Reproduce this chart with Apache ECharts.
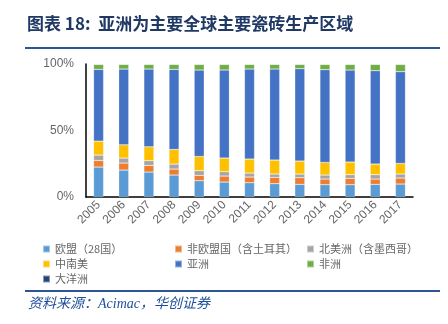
<!DOCTYPE html>
<html>
<head>
<meta charset="utf-8">
<script src="https://cdn.jsdelivr.net/npm/echarts@6/dist/echarts.min.js"></script>
<style>
  html, body { margin: 0; padding: 0; background: #fff; }
  #chart { width: 448px; height: 324px; }
</style>
</head>
<body>
<div id="chart"></div>
<script>
// Share of world ceramic tile production by region (%), 2005-2017
const years = ['2005','2006','2007','2008','2009','2010','2011','2012','2013','2014','2015','2016','2017'];
const eu28      = [22.5, 20.25, 18.75, 16.5, 12.25, 11.25, 10.75, 10, 9.5, 9.25, 9.25, 9.5, 9.75];
const nonEu     = [5, 5.25, 5, 4.5, 4, 4.5, 4.25, 4.75, 5, 4.25, 4.75, 4, 4.5];
const northAm   = [4, 3.75, 3.5, 3.75, 3.5, 3.25, 3, 2.5, 2.75, 3, 2.75, 3.25, 3];
const latinAm   = [10.5, 10, 10.5, 11, 10.75, 10.25, 10.5, 10.5, 9.75, 9.5, 9.5, 8, 8];
const asia      = [53.95, 56.95, 58.45, 60.2, 64.95, 66.2, 67.7, 68.45, 69.45, 69.7, 69.2, 70.2, 68.95];
const africa    = [3.75, 3.5, 3.5, 3.75, 4.25, 4.25, 3.5, 3.5, 3.25, 4, 4.25, 4.75, 5.5];
const oceania   = [0.3, 0.3, 0.3, 0.3, 0.3, 0.3, 0.3, 0.3, 0.3, 0.3, 0.3, 0.3, 0.3];
const yTicks    = ['0%', '50%', '100%'];

const seriesDefs = [
  { name: '欧盟（28国）', data: eu28, color: '#5B9BD5' },
  { name: '非欧盟国（含土耳其）', data: nonEu, color: '#ED7D31' },
  { name: '北美洲（含墨西哥）', data: northAm, color: '#A5A5A5' },
  { name: '中南美', data: latinAm, color: '#FFC000' },
  { name: '亚洲', data: asia, color: '#4472C4' },
  { name: '非洲', data: africa, color: '#70AD47' },
  { name: '大洋洲', data: oceania, color: '#264478' }
];

const chart = echarts.init(document.getElementById('chart'), null, { renderer: 'canvas' });

const legendText = { color: '#666666', fontSize: 11, fontFamily: 'Noto Sans CJK SC', lineHeight: 14 };
function legendCol(left, names) {
  return {
    orient: 'vertical', left: left, top: 242,
    itemWidth: 7, itemHeight: 7, itemGap: 1,
    icon: 'rect', selectedMode: false,
    textStyle: legendText, padding: 0,
    data: names
  };
}

chart.setOption({
  animation: false,
  color: seriesDefs.map(s => s.color),
  grid: { left: 86, right: 35, top: 64, height: 133 },
  legend: [
    legendCol(42, ['欧盟（28国）', '中南美', '大洋洲']),
    legendCol(174, ['非欧盟国（含土耳其）', '亚洲']),
    legendCol(306, ['北美洲（含墨西哥）', '非洲'])
  ],
  xAxis: {
    type: 'category',
    data: years,
    axisLine: { lineStyle: { color: '#000', width: 1.5 } },
    axisTick: { show: false },
    axisLabel: { rotate: 45, color: '#666666', fontSize: 12, fontFamily: 'Liberation Sans', margin: 6 }
  },
  yAxis: {
    type: 'value',
    min: 0, max: 100, interval: 50,
    axisLine: { show: true, lineStyle: { color: '#000', width: 1.5 } },
    axisTick: { show: false },
    splitLine: { show: false },
    axisLabel: {
      color: '#666666', fontSize: 12, fontFamily: 'Liberation Sans', margin: 12,
      formatter: v => yTicks[Math.round(v / 50)]
    }
  },
  series: seriesDefs.map(s => ({
    name: s.name,
    type: 'bar',
    stack: 'total',
    barWidth: 10,
    data: s.data,
    itemStyle: { color: s.color, borderColor: 'rgba(255,255,255,0.45)', borderWidth: 0.5 }
  })),
  graphic: [
    {
      type: 'text', left: 27, top: 15,
      style: {
        text: '图表 18:  亚洲为主要全球主要瓷砖生产区域',
        fill: '#1F3864', font: 'bold 17px "Noto Sans CJK SC"'
      }
    },
    {
      type: 'line', shape: { x1: 25, y1: 48, x2: 440, y2: 48 },
      style: { stroke: '#2F5496', lineWidth: 2 }
    },
    {
      type: 'line', shape: { x1: 25, y1: 291, x2: 440, y2: 291 },
      style: { stroke: '#2F5496', lineWidth: 2 }
    },
    {
      type: 'text', left: 28, top: 297,
      style: {
        text: '资料来源：Acimac，华创证券',
        fill: '#1F4E9C', font: 'italic 14px "Liberation Serif", "Noto Sans CJK SC"'
      }
    }
  ]
});
</script>
</body>
</html>
